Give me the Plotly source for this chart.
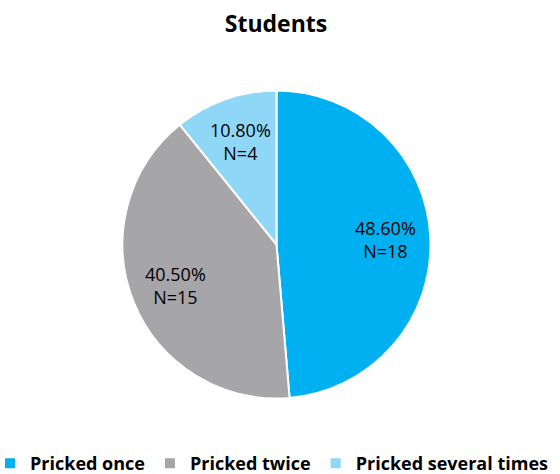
import math
import plotly.graph_objects as go

labels = ["Pricked once", "Pricked twice", "Pricked several times"]
counts = [18, 15, 4]
percents = ["48.60%", "40.50%", "10.80%"]
colors = ["#00B0F0", "#A6A6A8", "#8FD7F7"]

W, H = 560, 474
cx, cy, r = 276.5, 244.5, 154

fig = go.Figure(go.Pie(
    labels=labels,
    values=counts,
    textinfo="none",
    marker=dict(colors=colors, line=dict(color="#FFFFFF", width=2)),
    sort=False,
    direction="clockwise",
    rotation=0,
    hoverinfo="skip",
    domain=dict(x=[(cx - r) / W, (cx + r) / W], y=[1 - (cy + r) / H, 1 - (cy - r) / H]),
))

# data labels placed along each slice's mid-angle (computed from the values)
total = sum(counts)
start = 0.0
rho = 0.71 * r
for c, p in zip(counts, percents):
    frac = c / total
    mid = (start + frac / 2) * 2 * math.pi
    start += frac
    x = cx + rho * math.sin(mid)
    y = cy - rho * math.cos(mid)
    fig.add_annotation(
        x=x / W, y=1 - y / H, xref="paper", yref="paper",
        text=f"{p}<br>N={c}", showarrow=False,
        xanchor="center", yanchor="middle", align="center",
        font=dict(family="Open Sans", size=18, color="#000000"),
    )

fig.update_layout(
    width=W, height=H,
    margin=dict(l=0, r=0, t=0, b=0, autoexpand=False),
    paper_bgcolor="white",
    title=dict(text="<b>Students</b>", x=276 / W, xanchor="center", y=1 - 24 / H, yanchor="middle",
               font=dict(family="Open Sans", size=23, color="#000000")),
    showlegend=True,
    legend=dict(orientation="h", x=-10 / W, xanchor="left", y=-8 / H, yanchor="bottom",
                font=dict(family="Open Sans", size=18, color="#000000", weight="bold"),
                itemwidth=30, tracegroupgap=0),
)

fig.write_html("out.html")
